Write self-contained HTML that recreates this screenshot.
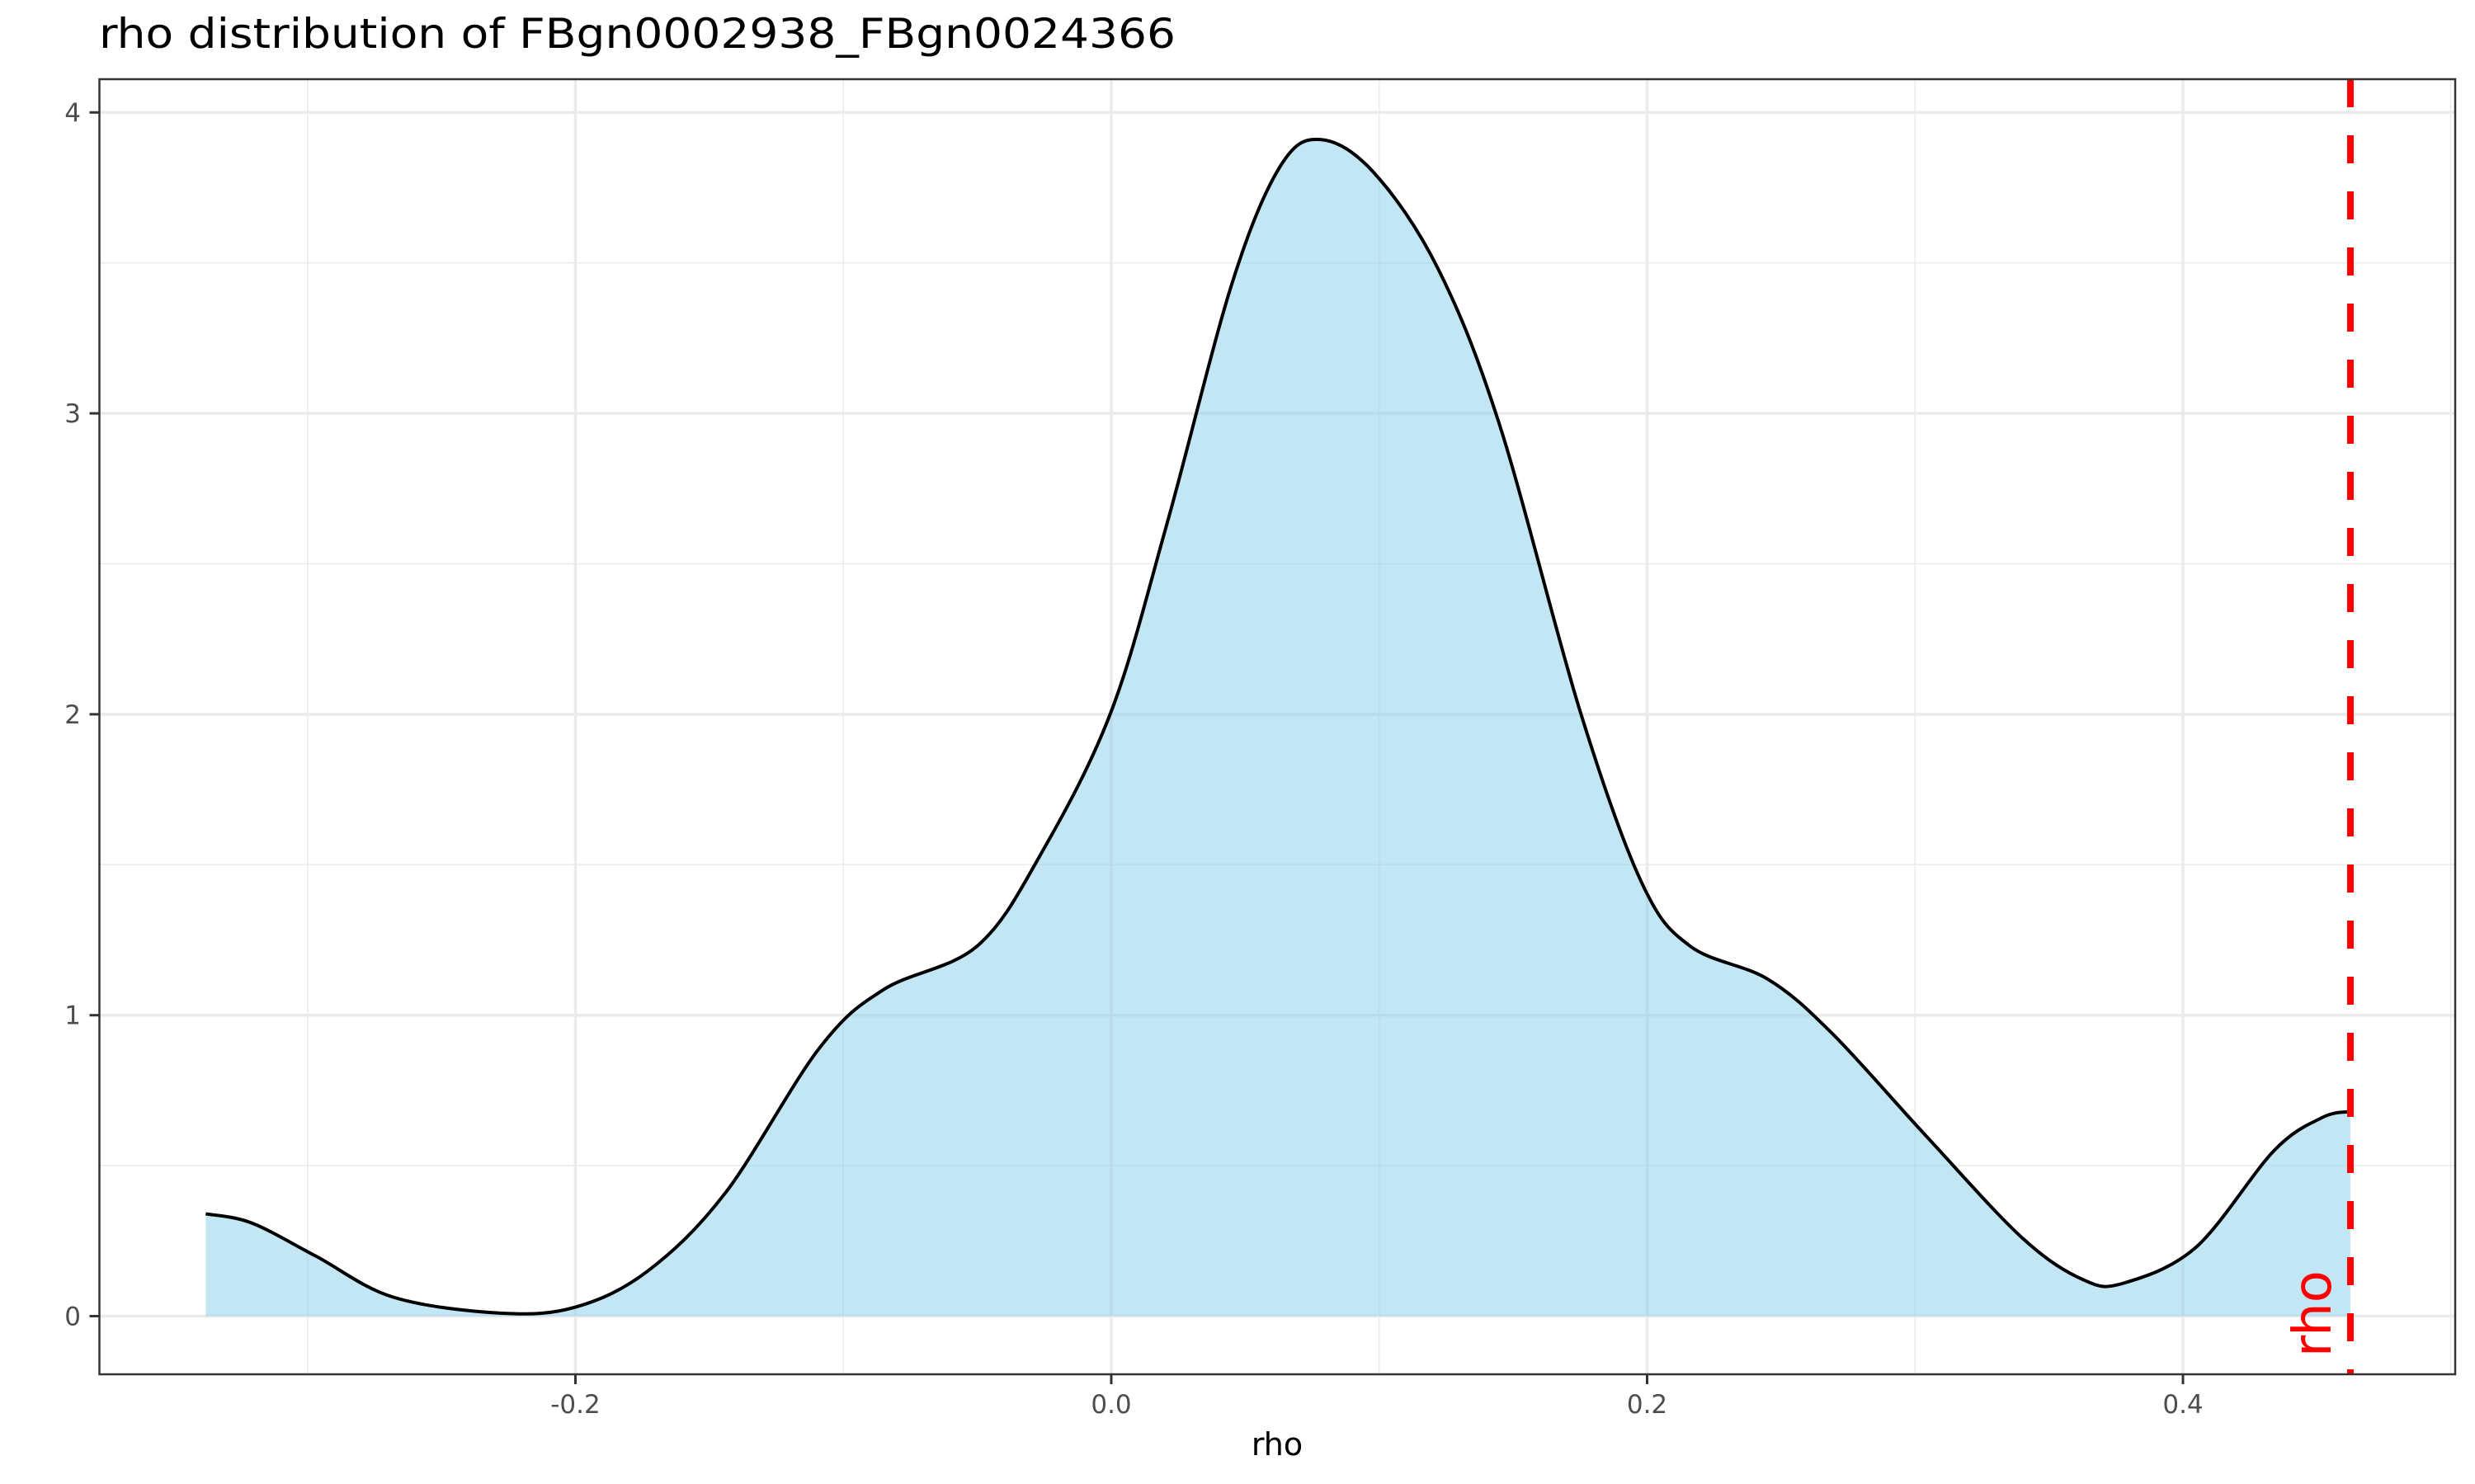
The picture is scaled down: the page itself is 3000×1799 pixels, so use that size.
<!DOCTYPE html>
<html><head><meta charset="utf-8"><style>
html,body{margin:0;padding:0;background:#fff;}
svg{display:block;font-family:"DejaVu Sans","Liberation Sans",sans-serif;}
</style></head><body>
<svg id="chart" width="3000" height="1799" viewBox="0 0 3000 1799">
<text x="120" y="58" font-size="50" fill="#000" textLength="1305" lengthAdjust="spacingAndGlyphs">rho distribution of FBgn0002938_FBgn0024366</text>
<g id="grid"></g>
<path id="area" fill="#87CEEB" fill-opacity="0.5"/>
<path id="curve" fill="none" stroke="#000" stroke-width="4"/>
<line id="rholine" stroke="#ff0000" stroke-width="8" stroke-dasharray="34,34"/>
<text id="rholabel" font-size="64" fill="#ff0000" text-anchor="start">rho</text>
<rect x="120.5" y="96" width="2855.5" height="1570" fill="none" stroke="#333" stroke-width="2.5"/>
<g id="axes"></g>
<text x="1548" y="1764" font-size="38" text-anchor="middle" fill="#000">rho</text>
</svg>
<script>
const rhoVals=[-0.338,-0.321,-0.297,-0.268,-0.228,-0.2,-0.173,-0.144,-0.109,-0.085,-0.05,-0.026,0,0.021,0.045,0.063,0.078,0.098,0.122,0.145,0.175,0.198,0.216,0.245,0.269,0.304,0.34,0.363,0.378,0.405,0.434,0.452,0.4625];
const densityVals=[0.34,0.31,0.20,0.063,0.01,0.03,0.15,0.41,0.89,1.085,1.23,1.54,2.01,2.64,3.43,3.82,3.91,3.80,3.48,2.96,2.01,1.44,1.23,1.12,0.94,0.60,0.26,0.12,0.11,0.23,0.55,0.66,0.68];
const observedRho=[0.4625];
const xMajor=[-0.2,0,0.2,0.4];
const xMajorLabels=["-0.2","0.0","0.2","0.4"];
const xMinor=[-0.3,-0.1,0.1,0.3,0.5];
const yMajor=[0,1,2,3,4];
const yMinor=[0.5,1.5,2.5,3.5];

const L=120.5,R=2976,T=96,B=1666;
const X=v=>1347+v*3247.5;
const Y=v=>1595.5-v*364.8;
const NS="http://www.w3.org/2000/svg";
function mk(tag,parent,attrs){const e=document.createElementNS(NS,tag);for(const k in attrs)e.setAttribute(k,attrs[k]);parent.appendChild(e);return e;}
const grid=document.getElementById('grid'),axes=document.getElementById('axes');
xMinor.forEach(v=>{const e=mk('line',grid,{x1:X(v),x2:X(v),y1:T,y2:B,stroke:'#ebebeb','stroke-width':1.5});

});
yMinor.forEach(v=>{const e=mk('line',grid,{x1:L,x2:R,y1:Y(v),y2:Y(v),stroke:'#ebebeb','stroke-width':1.5});

});
xMajor.forEach((v,i)=>{const e=mk('line',grid,{x1:X(v),x2:X(v),y1:T,y2:B,stroke:'#ebebeb','stroke-width':3.5});


const t=mk('line',axes,{x1:X(v),x2:X(v),y1:B,y2:B+12,stroke:'#333','stroke-width':3});


const l=mk('text',axes,{x:X(v),y:1713,'font-size':31,'text-anchor':'middle',fill:'#4d4d4d'});l.textContent=xMajorLabels[i];

});
yMajor.forEach(v=>{const e=mk('line',grid,{x1:L,x2:R,y1:Y(v),y2:Y(v),stroke:'#ebebeb','stroke-width':3.5});


const t=mk('line',axes,{x1:L-12,x2:L,y1:Y(v),y2:Y(v),stroke:'#333','stroke-width':3});


const l=mk('text',axes,{x:98,y:Y(v)+11,'font-size':31,'text-anchor':'end',fill:'#4d4d4d'});l.textContent=String(v);

});
const P=rhoVals.map((r,i)=>[X(r),Y(densityVals[i])]);
let d='M'+P[0][0]+','+P[0][1];
for(let i=0;i<P.length-1;i++){const p0=P[Math.max(0,i-1)],p1=P[i],p2=P[i+1],p3=P[Math.min(P.length-1,i+2)];
const c1=[p1[0]+(p2[0]-p0[0])/6,p1[1]+(p2[1]-p0[1])/6],c2=[p2[0]-(p3[0]-p1[0])/6,p2[1]-(p3[1]-p1[1])/6];
d+=' C'+c1[0]+','+c1[1]+' '+c2[0]+','+c2[1]+' '+p2[0]+','+p2[1];}
document.getElementById('curve').setAttribute('d',d);
document.getElementById('area').setAttribute('d',d+' L'+P[P.length-1][0]+','+Y(0)+' L'+P[0][0]+','+Y(0)+'Z');
const rl=document.getElementById('rholine');const rx=X(observedRho[0]);
rl.setAttribute('x1',rx);rl.setAttribute('x2',rx);rl.setAttribute('y1',T);rl.setAttribute('y2',B);
const lab=document.getElementById('rholabel');
lab.setAttribute('x',0);lab.setAttribute('y',0);
lab.setAttribute('transform','translate('+(rx-24)+',1645) rotate(-90)');
</script>
</body></html>
